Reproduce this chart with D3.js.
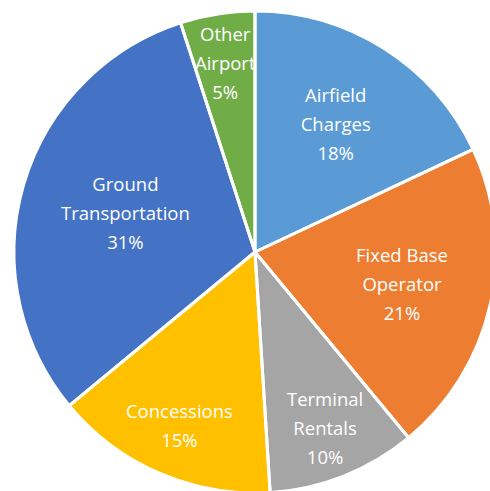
<!DOCTYPE html>
<html>
<head>
<meta charset="utf-8">
<script src="https://cdn.jsdelivr.net/npm/d3@7"></script>
<style>
  html, body { margin: 0; padding: 0; background: #ffffff; }
  svg { display: block; }
</style>
</head>
<body>
<svg id="chart" width="490" height="491"></svg>
<script>
// ---- data ----
const categories = [
  "Airfield\nCharges",
  "Fixed Base\nOperator",
  "Terminal\nRentals",
  "Concessions",
  "Ground\nTransportation",
  "Other\nAirport"
];
const values = [18, 21, 10, 15, 31, 5];
const colors = ["#5B9BD5", "#ED7D31", "#A5A5A5", "#FFC000", "#4472C4", "#70AD47"];

// ---- layout ----
const W = 490, H = 491;
const cx = 255, cy = 252, R = 241;

const svg = d3.select("#chart");
const g = svg.append("g").attr("transform", `translate(${cx},${cy})`);

const data = categories.map((c, i) => ({ name: c, value: values[i], color: colors[i] }));
const pie = d3.pie().value(d => d.value).sort(null).startAngle(0).endAngle(2 * Math.PI);
const arcs = pie(data);
const arc = d3.arc().innerRadius(0).outerRadius(R);

// slices
g.selectAll("path.slice").data(arcs).enter().append("path")
  .attr("class", "slice")
  .attr("d", arc)
  .attr("fill", d => d.data.color);

// labels (best-fit style: big slices nearer the centre, small ones nearer the rim)
const total = d3.sum(values);
const lineH = 29;
function labelFrac(v) {
  if (v >= 25) return 0.56;
  if (v >= 18) return 0.625;
  return 0.79;
}
arcs.forEach(d => {
  const frac = labelFrac(d.data.value);
  const la = d3.arc().innerRadius(R * frac).outerRadius(R * frac);
  const [x, y] = la.centroid(d);
  const lines = d.data.name.split("\n").concat([Math.round(d.data.value / total * 100) + "%"]);
  const t = g.append("text")
    .attr("x", x).attr("y", y)
    .attr("text-anchor", "middle")
    .attr("fill", "#ffffff")
    .style("font-family", "'Open Sans', 'Noto Sans', sans-serif")
    .style("font-size", "18.5px")
    .style("font-weight", 500);
  const n = lines.length;
  lines.forEach((ln, i) => {
    t.append("tspan")
      .attr("x", x)
      .attr("y", y + (i - (n - 1) / 2) * lineH + 6)
      .text(ln);
  });
});

// separators on top
g.selectAll("path.sep").data(arcs).enter().append("path")
  .attr("class", "sep")
  .attr("d", arc)
  .attr("fill", "none")
  .attr("stroke", "#ffffff")
  .attr("stroke-width", 3)
  .attr("stroke-linejoin", "round");
</script>
</body>
</html>
